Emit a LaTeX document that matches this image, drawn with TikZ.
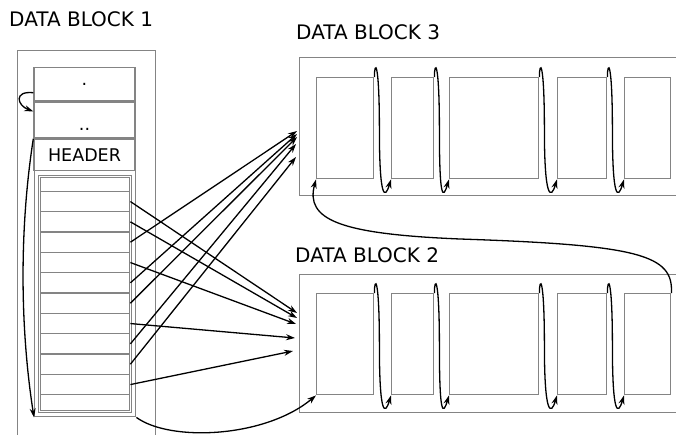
\documentclass[tikz,border=0pt]{standalone}
\usepackage{fontspec}
\setmainfont{DejaVu Sans}
\usetikzlibrary{arrows.meta, positioning, calc}
\definecolor{blockGray}{RGB}{132,132,132}

\begin{document}
\begin{tikzpicture}[
        x=1pt, y=-1pt,
        box/.style={rectangle, draw=blockGray, line width=1.4pt, inner sep=0pt, anchor=north west},
        cell/.style={box, minimum height=101pt},
        slot/.style={box, anchor=north, minimum width=101pt, font=\fontsize{17.5}{20}\selectfont},
        arrow/.style={-{Stealth[length=9pt,width=6pt]}, line width=1.3pt, black},
        title/.style={anchor=base west, inner sep=0pt, font=\fontsize{20}{24}\selectfont}
    ]
        \useasboundingbox (0,0) rectangle (676,434);
        \clip (0,0) rectangle (676,434);

        % Data block 1
        \node[title] (t1) at (9,26) {DATA BLOCK 1};
        \node[box, minimum width=138pt, minimum height=400pt] (b1) at (17,50) {};
        \node[box, minimum width=101pt, minimum height=349pt] (col) at (34,67) {};
        \node[slot, minimum height=33pt] (dot) at (84.5,67) {.};
        \node[slot, minimum height=36pt, text height=20pt, text depth=0pt, below=0pt of dot] (dotdot) {..};
        \node[slot, minimum height=31pt, below=0pt of dotdot] (hdr) {HEADER};
        \node[box, minimum width=93pt, minimum height=237pt] (lst) at (38,175) {};
        \foreach \i/\top/\bot in {1/177/190.7, 2/190.7/211, 3/211/231.3, 4/231.3/251.7,
                5/251.7/272, 6/272/292.3, 7/292.3/312.7, 8/312.7/333, 9/333/353.3,
                10/353.3/373.7, 11/373.7/394, 12/394/410}
            \node[box, minimum width=89pt, minimum height={\bot-\top}] (r\i) at (40,\top) {};

        % Data block 3
        \node[title] (t3) at (296,39) {DATA BLOCK 3};
        \node[box, minimum width=390pt, minimum height=138pt] (b3) at (299,57) {};
        \foreach \i/\x/\w in {1/316/57, 2/391/42, 3/449/89, 4/557/49, 5/624/46}
            \node[cell, minimum width=\w pt] (b3c\i) at (\x,77) {};

        % Data block 2
        \node[title] (t2) at (295,262) {DATA BLOCK 2};
        \node[box, minimum width=390pt, minimum height=138pt] (b2) at (299,274) {};
        \foreach \i/\x/\w in {1/316/57, 2/391/42, 3/449/89, 4/557/49, 5/624/46}
            \node[cell, minimum width=\w pt] (b2c\i) at (\x,293) {};

        % chains inside the blocks
        \foreach \i [evaluate=\i as \j using int(\i+1)] in {1,...,4} {
            \draw[arrow] (b3c\i.north east) .. controls +(0,-17) and +(0,-70) .. ++(5,53)
                .. controls +(0,70) and +(-6,20) .. (b3c\j.south west);
            \draw[arrow] (b2c\i.north east) .. controls +(0,-17) and +(0,-70) .. ++(5,53)
                .. controls +(0,70) and +(-6,20) .. (b2c\j.south west);
        }

        % pointers from the list
        \foreach \r/\x/\y in {4/297/131, 6/297/134, 7/297/137, 9/296/144, 10/296/157,
                2/297/313, 3/297/318, 5/296/324, 8/295/338, 11/293/351} {
            \coordinate (in\r) at (\x,\y);
            \draw[arrow] (r\r.east) -- (in\r);
        }

        % links
        \draw[arrow] ([yshift=-8.5pt]dot.west) .. controls +(-20,-2) and +(-16,-6) .. ([yshift=-10pt]dotdot.north west);
        \draw[arrow] (dotdot.south west) .. controls +(-14,90) and +(-14,-90) .. (col.south west);
        \draw[arrow] (col.south east) .. controls (170,442) and (265,438) .. (b2c1.south west);
        \draw[arrow] (b2c5.north east) .. controls +(2,-38) and (640,245) .. (460,239)
            .. controls (340,234) and (305,220) .. (b3c1.south west);
    \end{tikzpicture}
\end{document}
